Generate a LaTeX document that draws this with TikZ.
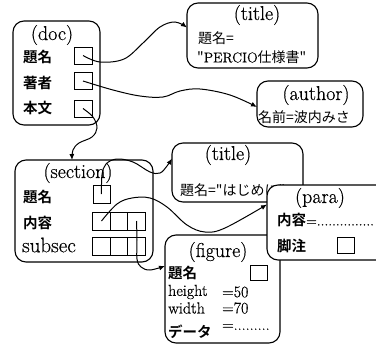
\documentclass[tikz,border=0pt]{standalone}
\usepackage{fontspec}
\usetikzlibrary{arrows.meta}
\setmainfont{Latin Modern Roman}[FakeBold=0.5]
\newfontfamily\jp{Noto Sans CJK JP}[BoldFont={Noto Sans CJK JP Bold}]
\begin{document}
\begin{tikzpicture}[x=1pt,y=1pt,
  obj/.style={draw, line width=1.1pt, rounded corners=11pt, fill=white, inner sep=0pt, outer sep=0pt},
  slot/.style={draw, line width=1pt, fill=white, inner sep=0pt, outer sep=0pt},
  hd/.style={font=\fontsize{20}{21}\selectfont, inner sep=0pt},
  lat/.style={font=\fontsize{16}{17}\selectfont, anchor=west, inner sep=0pt},
  lab/.style={font=\jp\bfseries\fontsize{14.5}{15}\selectfont, anchor=west, inner sep=0pt},
  txt/.style={font=\jp\fontsize{14}{15}\selectfont, anchor=west, inner sep=0pt},
  conn/.style={line width=1pt, -{Latex[length=6pt,width=5pt]}}]
\useasboundingbox (0,0) rectangle (376,-351);
\clip (0,0) rectangle (376,-351);

% doc object
\node[obj, minimum width=87pt, minimum height=104pt] (doc) at (56.5,-73) {};
\node[hd] (docH) at (52,-35) {(doc)};
\node[lab] (docL1) at (23,-57) {題名};
\node[lab] (docL2) at (23,-83) {著者};
\node[lab] (docL3) at (23,-108.5) {本文};
\node[slot, minimum width=18pt, minimum height=17pt] (dt1) at (83,-55.5) {};
\node[slot, minimum width=18pt, minimum height=17pt] (dt2) at (83,-81) {};
\node[slot, minimum width=18pt, minimum height=17pt] (dt3) at (83,-108.5) {};

% title object of the document
\node[obj, minimum width=131pt, minimum height=65pt] (title1) at (252.5,-35.5) {};
\node[hd] (t1H) at (257,-15) {(title)};
\node[txt] (t1a) at (198,-38) {題名=};
\node[txt] (t1b) at (197,-57) {"\rmfamily\fontsize{14}{15}\selectfont PERCIO\jp 仕様書"};

% author object
\node[obj, minimum width=106pt, minimum height=46pt] (author) at (310,-104) {};
\node[hd] (auH) at (316,-95) {(author)};
\node[txt] (auT) at (258,-117) {名前=波内みさ};

% section object
\node[obj, minimum width=138pt, minimum height=102pt] (section) at (84,-211) {};
\node[hd] (secH) at (78,-173) {(section)};
\node[lab] (secL1) at (23,-197) {題名};
\node[lab] (secL2) at (23,-223) {内容};
\node[hd, anchor=west, font=\fontsize{21}{22}\selectfont] (secL3) at (22,-245) {subsec};
\node[slot, minimum width=17pt, minimum height=18pt] (st1) at (101.5,-194) {};
\node[slot, minimum width=17.5pt, minimum height=18pt] (sc1) at (101.5,-221) {};
\node[slot, minimum width=17.5pt, minimum height=18pt] (sc2) at (119,-221) {};
\node[slot, minimum width=17.5pt, minimum height=18pt] (sc3) at (136.5,-221) {};
\node[slot, minimum width=17.5pt, minimum height=18pt] (ss1) at (101.5,-246) {};
\node[slot, minimum width=17.5pt, minimum height=18pt] (ss2) at (119,-246) {};
\node[slot, minimum width=17.5pt, minimum height=18pt] (ss3) at (136.5,-246) {};

% title object of the section
\node[obj, minimum width=131pt, minimum height=59pt] (title2) at (237.5,-172.5) {};
\node[hd] (t2H) at (228,-155) {(title)};
\node[txt] (t2a) at (180,-190) {題名="はじめに"};

% figure object
\node[obj, minimum width=115pt, minimum height=108pt] (figure) at (222.5,-289) {};
\node[hd] (figH) at (218,-252) {(figure)};
\node[lab] (figL1) at (168,-273) {題名};
\node[slot, minimum width=17pt, minimum height=15pt] (ft) at (258.5,-272.5) {};
\node[lat] (figL2) at (168,-292) {height};
\node[lat] (figV2) at (222,-292) {=50};
\node[lat] (figL3) at (168,-308) {width};
\node[lat] (figV3) at (222,-308) {=70};
\node[lab] (figL4) at (168,-332) {データ};
\node[lat] (figV4) at (222,-327) {=.........};

% para object, lying over its neighbours
\node[obj, minimum width=133pt, minimum height=75pt] (para) at (333.5,-222.5) {};
\node[hd] (paH) at (320,-198) {(para)};
\node[lab] (paL1) at (277,-220) {内容\mdseries\rmfamily\fontsize{14}{15}\selectfont=...............};
\node[lab] (paL2) at (277,-246) {脚注};
\node[slot, minimum width=17pt, minimum height=16pt] (pf) at (346,-245) {};

% references between objects
\draw[conn] plot[smooth, tension=0.6] coordinates {(dt1.center) (100,-62) (124,-59) (143,-43) (160,-27) (175,-22) ([yshift=8pt]title1.west)};
\draw[conn] plot[smooth, tension=0.6] coordinates {(dt2.center) (113,-90) (140,-96) (163,-97) (180,-91) (200,-89) (230,-95) ([yshift=-3pt]author.west)};
\draw[conn] plot[smooth, tension=0.6] coordinates {(dt3.center) (93,-117) (97,-128) (92,-137) (79,-143) (73,-150) ([xshift=-12pt]section.north)};
\draw[conn] plot[smooth, tension=0.6] coordinates {(st1.center) (102,-175) (106,-164) (117,-159) (133,-162) (150,-172) (160,-173) (167,-166) ([yshift=14pt]title2.west)};
\draw[conn] plot[smooth, tension=0.6] coordinates {(sc1.center) (117,-204) (132,-198) (150,-198) (167,-207) (187,-225) (205,-232) (225,-228) ([yshift=18pt]para.west)};
\draw[conn] plot[smooth, tension=0.6] coordinates {(sc3.center) (137,-240) (137,-259) (141,-267) (150,-270) ([yshift=23pt]figure.west)};
\end{tikzpicture}
\end{document}
